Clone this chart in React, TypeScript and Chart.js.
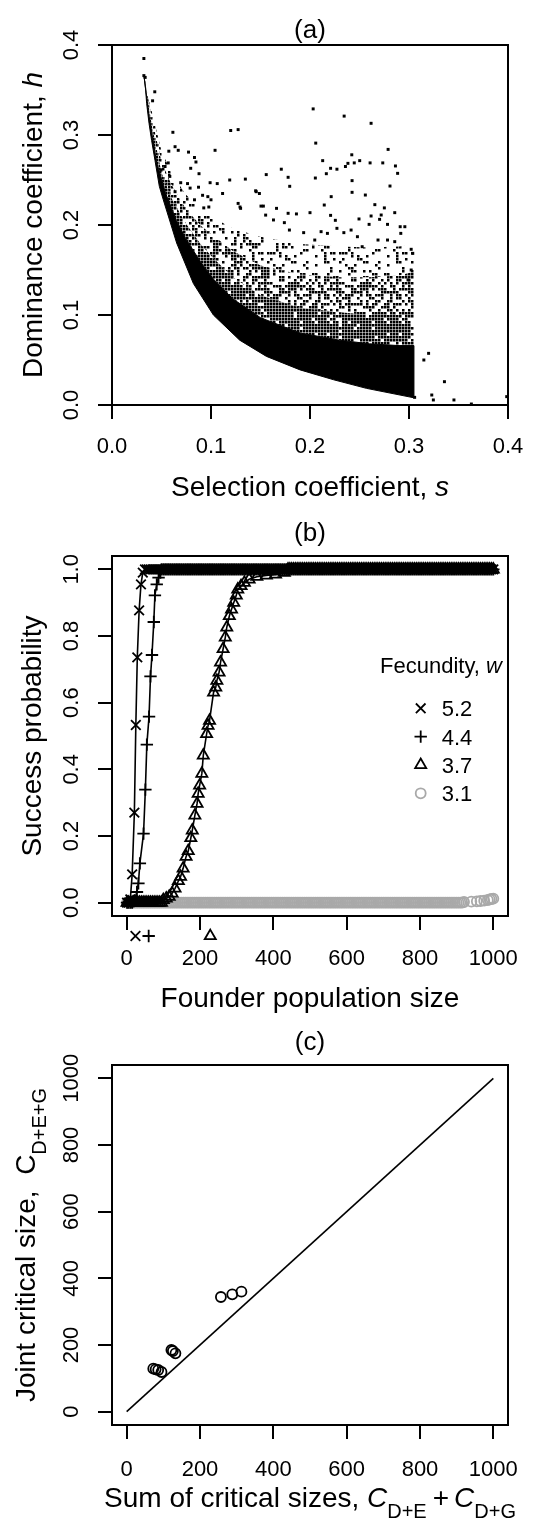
import React, { useEffect, useRef } from 'react';
import { Chart, registerables } from 'chart.js';

Chart.register(...registerables);

const FONT = '"Liberation Sans", Arial, Helvetica, sans-serif';
const CANVAS_W = 555;
const CANVAS_H = 508;
const TICK_FONT = 22;
const LAB_FONT = 28;

/* ======================= Panel (a) data ======================= */
const A_TICKS = [0, 0.1, 0.2, 0.3, 0.4];
const A_TICK_LABELS = ['0.0', '0.1', '0.2', '0.3', '0.4'];

// lower edge of the (s, h) cloud
const A_EDGE: [number, number][] = [
  [0.0323, 0.366], [0.034, 0.35], [0.035, 0.335], [0.0374, 0.313], [0.04, 0.294], [0.0434, 0.272],
  [0.0478, 0.243], [0.0518, 0.228], [0.0653, 0.18], [0.0822, 0.135], [0.1024, 0.1], [0.129, 0.072],
  [0.156, 0.054], [0.19, 0.039], [0.224, 0.028], [0.257, 0.0185], [0.305, 0.008],
];
// upper limit of the fully black part of the cloud
const A_SOLID_TOP: [number, number][] = [
  [0.0323, 0.366], [0.037, 0.324], [0.045, 0.27], [0.0539, 0.236], [0.065, 0.205], [0.0744, 0.185],
  [0.09, 0.158], [0.1024, 0.14], [0.122, 0.118], [0.15, 0.097], [0.19, 0.08], [0.23, 0.072],
  [0.26, 0.068], [0.29, 0.066], [0.305, 0.066],
];
// upper limit of the densely speckled part
const A_DENSE_TOP: [number, number][] = [
  [0.0323, 0.366], [0.04, 0.312], [0.05, 0.258], [0.06, 0.23], [0.0744, 0.202], [0.09, 0.178],
  [0.1024, 0.163], [0.122, 0.142], [0.15, 0.122], [0.19, 0.108], [0.23, 0.103], [0.26, 0.1],
  [0.29, 0.1], [0.305, 0.1],
];
// upper limit of the medium density part
const A_MID_TOP: [number, number][] = [
  [0.0323, 0.366], [0.04, 0.32], [0.05, 0.27], [0.06, 0.245], [0.0744, 0.218], [0.09, 0.199],
  [0.1024, 0.188], [0.122, 0.171], [0.15, 0.155], [0.19, 0.145], [0.23, 0.142], [0.26, 0.142],
  [0.29, 0.144], [0.305, 0.148],
];
// upper limit of the light density part
const A_LIGHT_TOP: [number, number][] = [
  [0.0323, 0.366], [0.04, 0.327], [0.05, 0.282], [0.06, 0.258], [0.0744, 0.234], [0.09, 0.218],
  [0.1024, 0.208], [0.122, 0.196], [0.15, 0.187], [0.19, 0.179], [0.23, 0.176], [0.26, 0.175],
  [0.29, 0.176], [0.305, 0.178],
];
// individually visible (sparse) points
const A_SPARSE: [number, number][] = [
  [0.0322, 0.385], [0.0322, 0.366], [0.0335, 0.364], [0.0432, 0.348], [0.041, 0.338], [0.0615, 0.303],
  [0.1199, 0.305], [0.1274, 0.306], [0.0637, 0.287], [0.0669, 0.283], [0.0574, 0.282], [0.0773, 0.281],
  [0.0833, 0.275], [0.0795, 0.263], [0.1041, 0.283], [0.0568, 0.269], [0.0536, 0.265], [0.0584, 0.254],
  [0.0495, 0.261], [0.171, 0.262], [0.0694, 0.247], [0.0763, 0.246], [0.0789, 0.241], [0.0874, 0.242],
  [0.0991, 0.247], [0.1063, 0.246], [0.1117, 0.235], [0.1189, 0.25], [0.1347, 0.251], [0.1558, 0.256],
  [0.1451, 0.238], [0.1489, 0.235], [0.1779, 0.253], [0.1795, 0.243], [0.0637, 0.237], [0.0915, 0.233],
  [0.0968, 0.2315], [0.1, 0.228], [0.0833, 0.228], [0.0927, 0.219], [0.0978, 0.22], [0.1274, 0.224],
  [0.1299, 0.2185], [0.1457, 0.237], [0.1505, 0.221], [0.1662, 0.2185], [0.1552, 0.211], [0.1631, 0.2056],
  [0.1741, 0.2026], [0.1779, 0.213], [0.0848, 0.27], [0.0879, 0.257], [0.1293, 0.22], [0.1529, 0.221],
  [0.2032, 0.329], [0.2345, 0.321], [0.2617, 0.313], [0.2058, 0.291], [0.2789, 0.284], [0.2422, 0.278],
  [0.2128, 0.2715], [0.2208, 0.263], [0.2272, 0.262], [0.2358, 0.265], [0.2383, 0.2685], [0.2447, 0.269],
  [0.2502, 0.2715], [0.2607, 0.269], [0.2735, 0.269], [0.2863, 0.2656], [0.2885, 0.2574], [0.2165, 0.257],
  [0.2054, 0.2522], [0.2425, 0.2493], [0.2808, 0.2433], [0.2425, 0.2363], [0.2559, 0.2333], [0.2214, 0.2315],
  [0.2144, 0.2222], [0.2655, 0.2226], [0.2751, 0.219], [0.1863, 0.2123], [0.2, 0.2137], [0.2208, 0.2107],
  [0.2256, 0.2052], [0.2495, 0.2067], [0.2597, 0.2007], [0.2617, 0.21], [0.2703, 0.2063], [0.2719, 0.2111],
  [0.2783, 0.2007], [0.2856, 0.2137], [0.2911, 0.1981], [0.2958, 0.1981], [0.2917, 0.1907], [0.1792, 0.1944],
  [0.1936, 0.1915], [0.2048, 0.1833], [0.2112, 0.1926], [0.2176, 0.1907], [0.2272, 0.1963], [0.2342, 0.1915],
  [0.2415, 0.1944], [0.2479, 0.187], [0.2527, 0.1759], [0.2687, 0.1833], [0.2783, 0.1833], [0.2856, 0.1815],
  [0.3022, 0.173], [0.3038, 0.1685], [0.3022, 0.15], [0.299, 0.139],
  [0.3057, 0.0085], [0.315, 0.05], [0.3198, 0.0574], [0.3358, 0.0259], [0.323, 0.0111], [0.3246, 0.0056],
  [0.3454, 0.0056], [0.363, 0.0011], [0.3987, 0.0093],
];
// share of ink in each density zone of the cloud
const A_ZONE_INK = { dense: 0.86, mid: 0.56, light: 0.26 };

/* ======================= Panel (b) data ======================= */
const B_X_TICKS = [0, 200, 400, 600, 800, 1000];
const B_X_LABELS = ['0', '200', '400', '600', '800', '1000'];
const B_Y_TICKS = [0, 0.2, 0.4, 0.6, 0.8, 1.0];
const B_Y_LABELS = ['0.0', '0.2', '0.4', '0.6', '0.8', '1.0'];
const FOUNDER_STEP = 5;
const FOUNDER_MAX = 1000;
const SATURATED_P = 1;
const EXTINCT_P = 0;

// w = 5.2 (x)
const W52_N = [1, 5, 10, 15, 21, 25, 29, 34, 39, 44];
const W52_P = [0, 0, 0.01, 0.085, 0.27, 0.533, 0.736, 0.877, 0.955, 0.99];
const W52_SATURATED_FROM = 50;
// w = 4.4 (+)
const W44_N = [1, 5, 10, 15, 20, 28, 32, 36, 46, 51, 55, 61, 65, 69, 74, 77, 82, 87, 92];
const W44_P = [0, 0, 0, 0, 0.005, 0.032, 0.058, 0.118, 0.207, 0.339, 0.474, 0.558, 0.679, 0.743, 0.842, 0.922, 0.955, 0.975, 0.99];
const W44_SATURATED_FROM = 95;
// w = 3.7 (triangle)
const W37_ZERO_UNTIL = 95;
const W37_N = [100, 108, 116, 124, 132, 141, 147, 154, 162, 168, 175, 179, 186, 192, 195, 199, 205, 209, 218, 222, 226, 237, 243, 246, 252, 256, 263, 269, 273, 280, 286, 292, 299, 303, 312, 321, 334, 355, 381, 406, 430];
const W37_P = [0.008, 0.013, 0.018, 0.028, 0.043, 0.065, 0.078, 0.103, 0.138, 0.155, 0.194, 0.217, 0.262, 0.297, 0.327, 0.352, 0.387, 0.442, 0.506, 0.531, 0.546, 0.631, 0.646, 0.666, 0.691, 0.721, 0.761, 0.796, 0.826, 0.86, 0.88, 0.9, 0.922, 0.94, 0.95, 0.96, 0.97, 0.978, 0.982, 0.985, 0.99];
const W37_SATURATED_FROM = 440;
// w = 3.1 (grey circle)
const W31_ZERO_UNTIL = 915;
const W31_TAIL_N = [920, 940, 955, 965, 975, 985, 990, 995, 1000];
const W31_TAIL_P = [0.002, 0.003, 0.004, 0.005, 0.006, 0.008, 0.01, 0.011, 0.012];
// critical sizes marked under the axis
const CRIT_N = [24, 60, 228];
const CRIT_STYLES = ['crossRot', 'cross', 'triangle'];
// legend
const LEGEND_LABELS = ['5.2', '4.4', '3.7', '3.1'];
const LEGEND_STYLES = ['crossRot', 'cross', 'triangle', 'circle'];
const GREY = '#a9a9a9';
const LEGEND_COLORS = ['#000', '#000', '#000', GREY];
const SYMBOL_RADIUS: Record<string, number> = { crossRot: 6.8, cross: 6.2, triangle: 6.4, circle: 5 };
const SYMBOL_LW = 1.8;

/* ======================= Panel (c) data ======================= */
const C_TICKS = [0, 200, 400, 600, 800, 1000];
const C_LABELS = ['0', '200', '400', '600', '800', '1000'];
const C_SUM = [72.6, 79, 86, 95, 122, 126, 133, 257, 288, 313];
const C_JOINT = [129, 127, 125, 119, 185, 182, 175, 344, 352, 360];
const C_DIAG = [0, 1000];

/* ======================= helpers ======================= */
type Seg = { t: string; it?: boolean; sub?: boolean; padL?: number; padR?: number };

const fontStr = (size: number, italic?: boolean) => `${italic ? 'italic ' : ''}${size}px ${FONT}`;

function drawRich(ctx: CanvasRenderingContext2D, segs: Seg[], size: number, x: number, baseline: number, align: 'center' | 'left' = 'center') {
  const subSize = Math.round(size * 0.72);
  const widths = segs.map((s) => {
    ctx.font = fontStr(s.sub ? subSize : size, s.it);
    return ctx.measureText(s.t).width + (s.padL || 0) + (s.padR || 0);
  });
  const total = widths.reduce((a, b) => a + b, 0);
  let cx = align === 'center' ? x - total / 2 : x;
  ctx.textAlign = 'left';
  ctx.textBaseline = 'alphabetic';
  segs.forEach((s, i) => {
    ctx.font = fontStr(s.sub ? subSize : size, s.it);
    ctx.fillText(s.t, cx + (s.padL || 0), baseline + (s.sub ? size * 0.4 : 0));
    cx += widths[i];
  });
}

function drawSymbol(ctx: CanvasRenderingContext2D, style: string, x: number, y: number, color: string) {
  const r = SYMBOL_RADIUS[style];
  ctx.save();
  ctx.strokeStyle = color;
  ctx.lineWidth = SYMBOL_LW;
  ctx.beginPath();
  if (style === 'crossRot') {
    const d = r * Math.SQRT1_2;
    ctx.moveTo(x - d, y - d); ctx.lineTo(x + d, y + d);
    ctx.moveTo(x - d, y + d); ctx.lineTo(x + d, y - d);
  } else if (style === 'cross') {
    ctx.moveTo(x - r, y); ctx.lineTo(x + r, y);
    ctx.moveTo(x, y - r); ctx.lineTo(x, y + r);
  } else if (style === 'triangle') {
    for (let k = 0; k < 3; k++) {
      const ang = (k * 2 * Math.PI) / 3;
      const px = x + Math.sin(ang) * r;
      const py = y - Math.cos(ang) * r;
      if (k === 0) ctx.moveTo(px, py); else ctx.lineTo(px, py);
    }
    ctx.closePath();
  } else {
    ctx.arc(x, y, r, 0, Math.PI * 2);
  }
  ctx.stroke();
  ctx.restore();
}

interface PanelSpec {
  title: string;
  titleBaseline: number;
  yTicks: number[];
  yLabels: string[];
  yLabelX: number;
  xTitle: Seg[];
  xTitleBaseline: number;
  yTitle: Seg[];
  yTitleBaseline: number;
  extra?: (chart: any, ctx: CanvasRenderingContext2D) => void;
}

function decorPlugin(spec: PanelSpec) {
  return {
    id: 'decor',
    afterDatasetsDraw(chart: any) {
      const { ctx, chartArea: a } = chart;
      ctx.save();
      ctx.strokeStyle = '#000';
      ctx.lineWidth = 2;
      ctx.strokeRect(a.left, a.top, a.right - a.left, a.bottom - a.top);
      ctx.restore();
    },
    afterDraw(chart: any) {
      const { ctx, chartArea: a } = chart;
      const cx = (a.left + a.right) / 2;
      const cy = (a.top + a.bottom) / 2;
      ctx.save();
      ctx.fillStyle = '#000';
      ctx.font = fontStr(26);
      ctx.textAlign = 'center';
      ctx.textBaseline = 'alphabetic';
      ctx.fillText(spec.title, cx, spec.titleBaseline);
      const ys = chart.scales.y;
      spec.yTicks.forEach((v, i) => {
        const py = ys.getPixelForValue(v);
        ctx.save();
        ctx.translate(spec.yLabelX, py);
        ctx.rotate(-Math.PI / 2);
        ctx.font = fontStr(TICK_FONT);
        ctx.textAlign = 'center';
        ctx.textBaseline = 'middle';
        ctx.fillText(spec.yLabels[i], 0, 0);
        ctx.restore();
      });
      drawRich(ctx, spec.xTitle, LAB_FONT, cx, spec.xTitleBaseline);
      ctx.save();
      ctx.translate(spec.yTitleBaseline, cy);
      ctx.rotate(-Math.PI / 2);
      drawRich(ctx, spec.yTitle, LAB_FONT, 0, 0);
      ctx.restore();
      if (spec.extra) spec.extra(chart, ctx);
      ctx.restore();
    },
  };
}

function linearAxis(min: number, max: number, ticks: number[], labels: string[], axis: 'x' | 'y', thickness: number, labelPadding = 0) {
  return {
    type: 'linear',
    min,
    max,
    afterBuildTicks: (s: any) => {
      s.ticks = ticks.map((v) => ({ value: v }));
    },
    afterFit: (s: any) => {
      if (axis === 'x') s.height = thickness;
      else s.width = thickness;
    },
    grid: {
      display: true,
      drawOnChartArea: false,
      drawTicks: true,
      tickLength: 14,
      tickWidth: 2,
      tickColor: '#000',
      color: '#000',
      lineWidth: 2,
    },
    border: { display: false },
    ticks:
      axis === 'x'
        ? {
            display: true,
            autoSkip: false,
            maxRotation: 0,
            minRotation: 0,
            padding: labelPadding,
            color: '#000',
            font: { family: FONT, size: TICK_FONT },
            callback: (_v: any, i: number) => labels[i],
          }
        : { display: false },
  };
}

function baseOptions(padTop: number, x: any, y: any) {
  return {
    responsive: false,
    animation: false,
    devicePixelRatio: 1,
    events: [],
    layout: { padding: { top: padTop, right: 47, bottom: 0, left: 0 } },
    plugins: { legend: { display: false }, tooltip: { enabled: false }, title: { display: false } },
    scales: { x, y },
  };
}

const foundersBetween = (from: number, to: number) => {
  const out: number[] = [];
  for (let n = from; n <= to; n += FOUNDER_STEP) out.push(n);
  return out;
};
const pairsToPts = (ns: number[], ps: number[]) => ns.map((n, i) => ({ x: n, y: ps[i] }));
const constPts = (ns: number[], p: number) => ns.map((n) => ({ x: n, y: p }));
const polygon = (lower: [number, number][], upper: [number, number][]) =>
  [...lower, ...upper.slice().reverse()].map(([x, y]) => ({ x, y }));

// well-mixed integer hash: used only to scatter the texture cells of a fill style
function mix(k: number) {
  let h = Math.imul(k ^ 0x5bd1e995, 0x9e3779b1);
  h ^= h >>> 16;
  h = Math.imul(h, 0x85ebca6b);
  h ^= h >>> 13;
  h = Math.imul(h, 0xc2b2ae35);
  h ^= h >>> 16;
  return (h >>> 0) % 1000;
}

// stipple texture (a fill style) used to render point density inside the cloud
function stipple(ctx: CanvasRenderingContext2D, ink: number, seed: number) {
  const CELL = 3;
  const N = 24;
  const T = CELL * N;
  const c = document.createElement('canvas');
  c.width = T;
  c.height = T;
  const g = c.getContext('2d')!;
  g.fillStyle = '#000';
  for (let k = 0; k < N * N; k++) {
    if (mix(k + seed * 7919) < ink * 1000) g.fillRect((k % N) * CELL, Math.floor(k / N) * CELL, CELL - 0.5, CELL - 0.5);
  }
  return ctx.createPattern(c, 'repeat');
}

/* ======================= charts ======================= */
function makeA(canvas: HTMLCanvasElement) {
  const ctx = canvas.getContext('2d')!;
  const polyDs = (data: any, bg: any, border: string, bw: number) => ({
    type: 'line',
    data,
    showLine: true,
    fill: 'shape',
    backgroundColor: bg,
    borderColor: border,
    borderWidth: bw,
    pointRadius: 0,
    tension: 0,
  });
  return new Chart(canvas, {
    type: 'scatter',
    data: {
      datasets: [
        {
          type: 'scatter',
          data: A_SPARSE.map(([x, y]) => ({ x, y })),
          pointStyle: 'rect',
          pointRadius: 2.1,
          pointBackgroundColor: '#000',
          pointBorderWidth: 0,
        },
        polyDs(polygon(A_EDGE, A_SOLID_TOP), '#000', '#000', 1),
        polyDs(polygon(A_SOLID_TOP, A_DENSE_TOP), stipple(ctx, A_ZONE_INK.dense, 1), 'rgba(0,0,0,0)', 0),
        polyDs(polygon(A_DENSE_TOP, A_MID_TOP), stipple(ctx, A_ZONE_INK.mid, 2), 'rgba(0,0,0,0)', 0),
        polyDs(polygon(A_MID_TOP, A_LIGHT_TOP), stipple(ctx, A_ZONE_INK.light, 3), 'rgba(0,0,0,0)', 0),
      ] as any,
    },
    options: baseOptions(
      45,
      linearAxis(0, 0.4, A_TICKS, A_TICK_LABELS, 'x', 103, 15),
      linearAxis(0, 0.4, A_TICKS, A_TICK_LABELS, 'y', 112)
    ) as any,
    plugins: [
      decorPlugin({
        title: '(a)',
        titleBaseline: 37.5,
        yTicks: A_TICKS,
        yLabels: A_TICK_LABELS,
        yLabelX: 72,
        xTitle: [{ t: 'Selection coefficient, ' }, { t: 's', it: true }],
        xTitleBaseline: 496,
        yTitle: [{ t: 'Dominance coefficient, ' }, { t: 'h', it: true }],
        yTitleBaseline: 42,
      }),
    ] as any,
  });
}

function makeB(canvas: HTMLCanvasElement) {
  const w52 = [...pairsToPts(W52_N, W52_P), ...constPts(foundersBetween(W52_SATURATED_FROM, FOUNDER_MAX), SATURATED_P)];
  const w44 = [...pairsToPts(W44_N, W44_P), ...constPts(foundersBetween(W44_SATURATED_FROM, FOUNDER_MAX), SATURATED_P)];
  const w37 = [
    ...constPts([1, ...foundersBetween(FOUNDER_STEP, W37_ZERO_UNTIL)], EXTINCT_P),
    ...pairsToPts(W37_N, W37_P),
    ...constPts(foundersBetween(W37_SATURATED_FROM, FOUNDER_MAX), SATURATED_P),
  ];
  const w31 = [
    ...constPts([1, ...foundersBetween(FOUNDER_STEP, W31_ZERO_UNTIL)], EXTINCT_P),
    ...pairsToPts(W31_TAIL_N, W31_TAIL_P),
  ];
  const series = (data: any, style: string, color: string, line: boolean) => ({
    type: 'scatter',
    data,
    showLine: line,
    borderColor: color,
    borderWidth: 1.6,
    pointStyle: style,
    pointRadius: SYMBOL_RADIUS[style],
    pointBorderWidth: SYMBOL_LW,
    pointBorderColor: color,
    pointBackgroundColor: 'rgba(0,0,0,0)',
    fill: false,
  });
  return new Chart(canvas, {
    type: 'scatter',
    data: {
      datasets: [
        series(w52, 'crossRot', '#000', true),
        series(w44, 'cross', '#000', true),
        series(w37, 'triangle', '#000', true),
        series(w31, 'circle', GREY, false),
      ] as any,
    },
    options: baseOptions(
      48,
      linearAxis(-40, 1040, B_X_TICKS, B_X_LABELS, 'x', 100, 16),
      linearAxis(-0.04, 1.04, B_Y_TICKS, B_Y_LABELS, 'y', 112)
    ) as any,
    plugins: [
      decorPlugin({
        title: '(b)',
        titleBaseline: 33.2,
        yTicks: B_Y_TICKS,
        yLabels: B_Y_LABELS,
        yLabelX: 72,
        xTitle: [{ t: 'Founder population size' }],
        xTitleBaseline: 498.7,
        yTitle: [{ t: 'Success probability' }],
        yTitleBaseline: 41,
        extra: (chart, ctx) => {
          ctx.fillStyle = '#000';
          drawRich(ctx, [{ t: 'Fecundity, ' }, { t: 'w', it: true }], 22, 380, 165.3, 'left');
          LEGEND_LABELS.forEach((lab, i) => {
            const yc = 200.3 + i * 28.33;
            drawSymbol(ctx, LEGEND_STYLES[i], 420.7, yc, LEGEND_COLORS[i]);
            ctx.font = fontStr(22);
            ctx.textAlign = 'left';
            ctx.textBaseline = 'alphabetic';
            ctx.fillStyle = '#000';
            ctx.fillText(lab, 441.7, yc + 7.9);
          });
          const xs = chart.scales.x;
          CRIT_N.forEach((n, i) => drawSymbol(ctx, CRIT_STYLES[i], xs.getPixelForValue(n), 428, '#000'));
        },
      }),
    ] as any,
  });
}

function makeC(canvas: HTMLCanvasElement) {
  return new Chart(canvas, {
    type: 'scatter',
    data: {
      datasets: [
        {
          type: 'scatter',
          data: pairsToPts(C_SUM, C_JOINT),
          pointStyle: 'circle',
          pointRadius: 5,
          pointBorderWidth: 1.8,
          pointBorderColor: '#000',
          pointBackgroundColor: 'rgba(0,0,0,0)',
        },
        {
          type: 'line',
          data: pairsToPts(C_DIAG, C_DIAG),
          showLine: true,
          borderColor: '#000',
          borderWidth: 1.6,
          pointRadius: 0,
          fill: false,
        },
      ] as any,
    },
    options: baseOptions(
      49,
      linearAxis(-40, 1040, C_TICKS, C_LABELS, 'x', 99, 18),
      linearAxis(-40, 1040, C_TICKS, C_LABELS, 'y', 112)
    ) as any,
    plugins: [
      decorPlugin({
        title: '(c)',
        titleBaseline: 33.5,
        yTicks: C_TICKS,
        yLabels: C_LABELS,
        yLabelX: 72,
        xTitle: [
          { t: 'Sum of critical sizes, ' },
          { t: 'C', it: true },
          { t: 'D+E', sub: true },
          { t: '+', padL: 6, padR: 5 },
          { t: 'C', it: true },
          { t: 'D+G', sub: true },
        ],
        xTitleBaseline: 490.7,
        yTitle: [{ t: 'Joint critical size,  C' }, { t: 'D+E+G', sub: true }],
        yTitleBaseline: 35,
      }),
    ] as any,
  });
}

export default function App() {
  const refA = useRef<HTMLCanvasElement>(null);
  const refB = useRef<HTMLCanvasElement>(null);
  const refC = useRef<HTMLCanvasElement>(null);

  useEffect(() => {
    const charts = [makeA(refA.current!), makeB(refB.current!), makeC(refC.current!)];
    return () => charts.forEach((c) => c.destroy());
  }, []);

  const style = { display: 'block', width: CANVAS_W, height: CANVAS_H };
  return (
    <div style={{ position: 'absolute', left: 0, top: 0, width: CANVAS_W, height: CANVAS_H * 3, background: '#fff' }}>
      <canvas ref={refA} width={CANVAS_W} height={CANVAS_H} style={style} />
      <canvas ref={refB} width={CANVAS_W} height={CANVAS_H} style={style} />
      <canvas ref={refC} width={CANVAS_W} height={CANVAS_H} style={style} />
    </div>
  );
}
